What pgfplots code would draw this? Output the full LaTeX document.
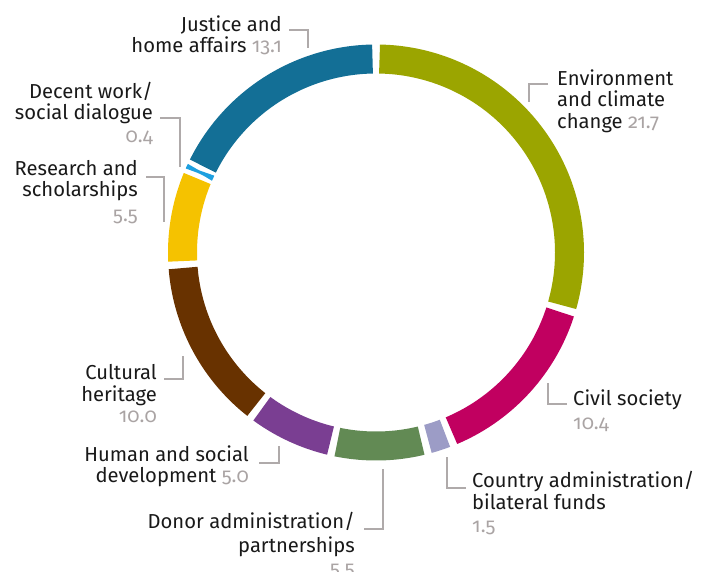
\documentclass[border=0pt]{standalone}
\usepackage{pgfplots}
\pgfplotsset{compat=1.18}
\usepackage{fontspec}
\setmainfont{Fira Sans}[Numbers=OldStyle]
\definecolor{envc}{RGB}{155,165,0}
\definecolor{civc}{RGB}{193,0,96}
\definecolor{couc}{RGB}{156,156,198}
\definecolor{donc}{RGB}{98,138,84}
\definecolor{humc}{RGB}{122,62,146}
\definecolor{culc}{RGB}{104,50,0}
\definecolor{resc}{RGB}{245,194,0}
\definecolor{decc}{RGB}{30,160,224}
\definecolor{jusc}{RGB}{19,111,150}
\definecolor{valc}{RGB}{170,164,164}
\definecolor{linc}{RGB}{175,170,170}
\definecolor{txtc}{RGB}{25,25,25}
% segment: color, cumulative start, value, half gap (px)
\newcommand{\seg}[4]{%
  \pgfmathsetmacro\dpu{360/73.1}%
  \pgfmathsetmacro\g{#4/193.5*180/pi}%
  \pgfmathsetmacro\lo{90-(#2+#3)*\dpu+\g}%
  \pgfmathsetmacro\hi{90-(#2)*\dpu-\g}%
  \addplot[draw=#1, no markers, line width=29bp, line cap=butt, domain=\lo:\hi, samples=80]
    ({376+193.5*cos(x)},{319.5+193.5*sin(x)});%
}
\newcommand{\val}[1]{\textcolor{valc}{#1}}
\tikzset{lab/.style={font=\fontsize{20.2bp}{22bp}\selectfont, inner sep=0pt, text=txtc}}
\begin{document}
\begin{tikzpicture}
\begin{axis}[name=ax, at={(0,0)}, anchor=south west,
  width=714bp, height=572bp, scale only axis,
  xmin=0, xmax=714, ymin=0, ymax=572, hide axis, clip=false]
\seg{envc}{0}{21.7}{3.5}
\seg{civc}{21.7}{10.4}{3.5}
\seg{couc}{32.1}{1.5}{3.5}
\seg{donc}{33.6}{5.5}{3.5}
\seg{humc}{39.1}{5.0}{3.5}
\seg{culc}{44.1}{10.0}{3.5}
\seg{resc}{54.1}{5.5}{3.5}
\seg{decc}{59.6}{0.4}{1.8}
\seg{jusc}{60.0}{13.1}{3.5}
% connectors
\draw[linc, line width=2bp] (axis cs:289,542) -- (axis cs:308,542) -- (axis cs:308,524);
\draw[linc, line width=2bp] (axis cs:160,454) -- (axis cs:180,454) -- (axis cs:180,405);
\draw[linc, line width=2bp] (axis cs:146,395) -- (axis cs:164,395) -- (axis cs:164,350);
\draw[linc, line width=2bp] (axis cs:548,488) -- (axis cs:529,488) -- (axis cs:529,470);
\draw[linc, line width=2bp] (axis cs:567,168) -- (axis cs:548,168) -- (axis cs:548,189);
\draw[linc, line width=2bp] (axis cs:466,84) -- (axis cs:447,84) -- (axis cs:447,115);
\draw[linc, line width=2bp] (axis cs:164,193) -- (axis cs:183,193) -- (axis cs:183,216);
\draw[linc, line width=2bp] (axis cs:259,109) -- (axis cs:279,109) -- (axis cs:279,126);
\draw[linc, line width=2bp] (axis cs:364,43) -- (axis cs:383,43) -- (axis cs:383,103);
% labels
\node[lab, anchor=base east] at (axis cs:282,540) {Justice and};
\node[lab, anchor=base east] at (axis cs:282,519) {home affairs \val{13.1}};
\node[lab, anchor=base east] at (axis cs:153,473) {Decent work/};
\node[lab, anchor=base east] at (axis cs:153,452) {social dialogue};
\node[lab, anchor=base east] at (axis cs:153,429) {\val{0.4}};
\node[lab, anchor=base east] at (axis cs:138,396) {Research and};
\node[lab, anchor=base east] at (axis cs:138,375) {scholarships};
\node[lab, anchor=base east] at (axis cs:138,350) {\val{5.5}};
\node[lab, anchor=base west] at (axis cs:557,486) {Environment};
\node[lab, anchor=base west] at (axis cs:557,465) {and climate};
\node[lab, anchor=base west] at (axis cs:557,443) {change \val{21.7}};
\node[lab, anchor=base west] at (axis cs:573,166) {Civil society};
\node[lab, anchor=base west] at (axis cs:573,142) {\val{10.4}};
\node[lab, anchor=base west] at (axis cs:472,84) {Country administration/};
\node[lab, anchor=base west] at (axis cs:472,62) {bilateral funds};
\node[lab, anchor=base west] at (axis cs:472,39) {\val{1.5}};
\node[lab, anchor=base east] at (axis cs:157,192) {Cultural};
\node[lab, anchor=base east] at (axis cs:157,170) {heritage};
\node[lab, anchor=base east] at (axis cs:157,149) {\val{10.0}};
\node[lab, anchor=base east] at (axis cs:249,110) {Human and social};
\node[lab, anchor=base east] at (axis cs:249,89) {development \val{5.0}};
\node[lab, anchor=base east] at (axis cs:355,43) {Donor administration/};
\node[lab, anchor=base east] at (axis cs:355,20) {partnerships};
\node[lab, anchor=base east] at (axis cs:355,-3) {\val{5.5}};
\end{axis}
\pgfresetboundingbox
\path (ax.south west) rectangle (ax.north east);
\end{tikzpicture}
\end{document}
